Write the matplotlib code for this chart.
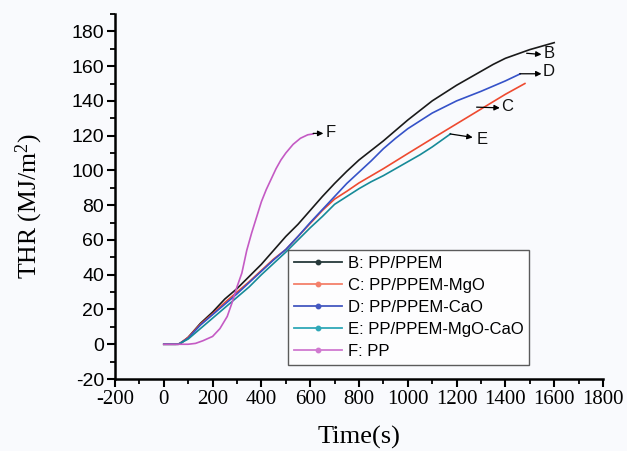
import matplotlib
matplotlib.use("Agg")
import matplotlib.pyplot as plt
from matplotlib.lines import Line2D
from matplotlib.ticker import MultipleLocator

plt.rcParams["axes.unicode_minus"] = False
plt.rcParams["mathtext.fontset"] = "custom"
plt.rcParams["mathtext.rm"] = "Liberation Serif"
plt.rcParams["mathtext.it"] = "Liberation Serif:italic"

# THR curves, time in s, THR in MJ/m2
t_B = [0, 50, 70, 100, 150, 200, 250, 300, 350, 400, 450, 500, 550, 600, 650, 700,
       750, 800, 850, 900, 950, 1000, 1050, 1100, 1150, 1200, 1250, 1300, 1350, 1400,
       1450, 1500, 1550, 1600]
thr_B = [0, 0, 0.5, 4, 12, 18.5, 26, 32, 39, 46, 54, 62, 69, 77, 85, 92.5,
         99.5, 106, 111.5, 117, 123, 129, 134.5, 140, 144.5, 149, 153, 157, 161, 164.5,
         167, 169.5, 171.5, 173.5]

t_C = [0, 60, 100, 150, 200, 250, 300, 350, 400, 450, 500, 550, 600, 650, 700,
       750, 800, 900, 1000, 1100, 1200, 1300, 1400, 1480]
thr_C = [0, 0, 4, 11.5, 17.5, 24, 30, 36, 42.5, 49, 54.5, 62, 69.5, 77, 83.5,
         88, 92.8, 101, 109.7, 118.3, 126.8, 135.3, 143.8, 150]

t_D = [0, 60, 100, 150, 200, 250, 300, 350, 400, 450, 500, 550, 600, 650, 700,
       750, 800, 850, 900, 950, 1000, 1100, 1200, 1300, 1400, 1460]
thr_D = [0, 0, 3.5, 11, 17, 23, 29, 35.5, 42, 48.5, 54.5, 62, 70, 77.5, 85,
         92.5, 99, 105.5, 112.5, 118.5, 124, 133, 140, 145.5, 151.5, 155.5]

t_E = [0, 60, 100, 150, 200, 250, 300, 350, 400, 450, 500, 550, 600, 650, 700,
       750, 800, 850, 900, 950, 1000, 1050, 1100, 1150, 1175]
thr_E = [0, 0, 3, 9, 15, 21, 27, 33, 40, 46.5, 53, 60, 67, 73.5, 80.5,
         85, 89.5, 93.5, 97, 101, 105, 109, 113.5, 118.5, 121]

t_F = [0, 50, 100, 130, 160, 200, 230, 260, 280, 300, 320, 340, 360, 380, 400,
       420, 440, 460, 480, 500, 530, 560, 590, 612]
thr_F = [0, 0, 0, 0.5, 2, 4.5, 9, 16, 24, 33, 41, 54, 64, 73, 82,
         89, 95, 101, 106, 110, 115, 118.5, 120.5, 121]

labels = ["B: PP/PPEM", "C: PP/PPEM-MgO", "D: PP/PPEM-CaO",
          "E: PP/PPEM-MgO-CaO", "F: PP"]
line_colors = ["#1a1a1a", "#ee4a30", "#3552c8", "#178a98", "#c45ac4"]
legend_colors = ["#26393a", "#f4806a", "#4458c0", "#30a8b8", "#d07ad0"]

# letter tags: (letter, arrow tail, arrow head, text position)
tags = [("B", (1487, 167.4), (1548, 166.7), (1578, 167)),
        ("D", (1459, 155.6), (1548, 155.6), (1578, 157)),
        ("C", (1282, 136.4), (1377, 136.0), (1408, 136.5)),
        ("E", (1173, 121.0), (1266, 119.0), (1305, 118)),
        ("F", (612, 121.3), (654, 121.3), (682, 122))]

bg = "#f9fafd"
fig = plt.figure(figsize=(6.27, 4.51), dpi=100, facecolor=bg)
ax = fig.add_axes([0.1834, 0.1596, 0.7783, 0.8094], facecolor=bg)

series = [(t_B, thr_B), (t_C, thr_C), (t_D, thr_D), (t_E, thr_E), (t_F, thr_F)]
for (t, v), c in zip(series, line_colors):
    ax.plot(t, v, color=c, lw=1.2, solid_joinstyle="round")

for letter, tail, head, pos in tags:
    ax.annotate("", xy=head, xytext=tail,
                arrowprops=dict(arrowstyle="-|>", color="k", lw=0.9,
                                mutation_scale=8, shrinkA=0, shrinkB=0))
    ax.text(pos[0], pos[1], letter, fontsize=12, family="Liberation Sans",
            ha="center", va="center", color="#111111")

ax.set_xlim(-200, 1800)
ax.set_ylim(-20, 190)
ax.xaxis.set_major_locator(MultipleLocator(200))
ax.xaxis.set_minor_locator(MultipleLocator(100))
ax.set_yticks(range(-20, 181, 20))
ax.yaxis.set_minor_locator(MultipleLocator(10))

for s in ["top", "right"]:
    ax.spines[s].set_visible(False)
for s in ["left", "bottom"]:
    ax.spines[s].set_linewidth(1.8)

ax.tick_params(which="major", direction="out", length=6, width=1.5, pad=2)
ax.tick_params(which="minor", direction="out", length=3.5, width=1.3)
for lbl in ax.get_yticklabels():
    lbl.set_fontfamily("Liberation Sans")
    lbl.set_fontsize(14)
for lbl in ax.get_xticklabels():
    lbl.set_fontfamily("Liberation Serif")
    lbl.set_fontsize(15)

ax.set_xlabel("Time(s)", fontsize=19, family="Liberation Serif", labelpad=12)
ax.set_ylabel("THR (MJ/m$^2$)", fontsize=18.5, family="Liberation Serif")
ax.yaxis.set_label_coords(-0.143, 0.474)

handles = [Line2D([], [], color=c, lw=1.3, marker="o", markersize=3.2)
           for c in legend_colors]
leg = ax.legend(handles, labels, loc="lower left", bbox_to_anchor=(0.354, 0.038),
                prop={"family": "Liberation Sans", "size": 12},
                frameon=True, fancybox=False, edgecolor="#333333",
                borderpad=0.35, labelspacing=0.42, handlelength=2.9,
                handletextpad=0.35, borderaxespad=0)
leg.get_frame().set_linewidth(1.0)
leg.get_frame().set_facecolor("white")

fig.savefig("out.png", dpi=100, facecolor=bg)
